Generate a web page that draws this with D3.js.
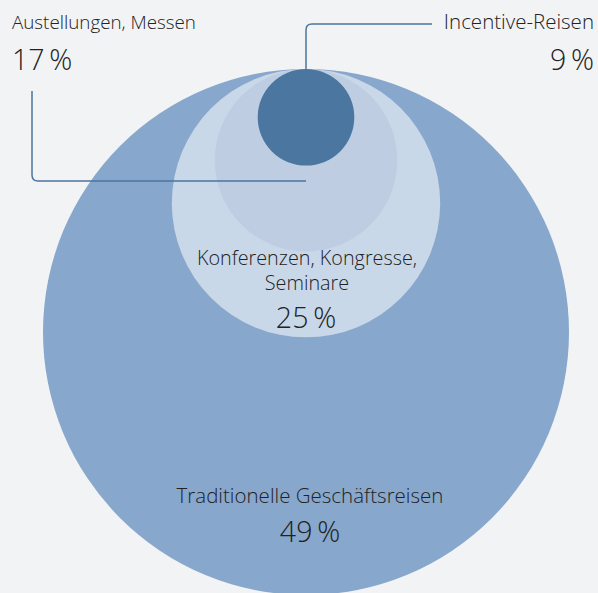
<!DOCTYPE html>
<html>
<head>
<meta charset="utf-8">
<script src="https://cdn.jsdelivr.net/npm/d3@7"></script>
<style>
  body { margin: 0; background: #f2f3f5; }
  svg { display: block; }
  text { font-family: "Open Sans", sans-serif; font-weight: 300; fill: #222; }
</style>
</head>
<body>
<div id="chart"></div>
<script>
// data
var categories = ["Traditionelle Geschäftsreisen", "Konferenzen, Kongresse, Seminare", "Austellungen, Messen", "Incentive-Reisen"];
var values = [49, 25, 17, 9];
var colors = ["#87a7cc", "#c9d8e8", "#bfcde3", "#4a76a0"];

var width = 598, height = 593;
var cx = 306, topY = 69;

var svg = d3.select("#chart")
  .append("svg")
    .attr("width", width)
    .attr("height", height);

svg.append("rect").attr("width", width).attr("height", height).attr("fill", "#f2f3f5");

// radius grows linearly with the value, all circles touch at the top
var r = d3.scaleLinear().domain([0, 49]).range([0, 263]);
var color = d3.scaleOrdinal().domain(categories).range(colors);

var data = categories.map(function(c, i) { return {name: c, value: values[i]}; });

svg.selectAll("circle")
  .data(data)
  .enter().append("circle")
    .attr("cx", cx)
    .attr("cy", function(d) { return topY + r(d.value); })
    .attr("r", function(d) { return r(d.value); })
    .attr("fill", function(d) { return color(d.name); });

function pct(v) { return v + "\u2009%"; }

var labelSize = "19.8px", numSize = "28.5px";

// labels inside the two big circles
var big = data[0], conf = data[1];
var bigBottom = topY + 2 * r(big.value);
var confBottom = topY + 2 * r(conf.value);

svg.append("text").attr("x", cx + 4).attr("y", bigBottom - 92).attr("text-anchor", "middle")
  .style("font-size", "20.5px").text(big.name);
svg.append("text").attr("x", cx + 4).attr("y", bigBottom - 53).attr("text-anchor", "middle")
  .style("font-size", numSize).text(pct(big.value));

svg.append("text").attr("x", cx + 1).attr("y", confBottom - 72).attr("text-anchor", "middle")
  .style("font-size", labelSize).text("Konferenzen, Kongresse,");
svg.append("text").attr("x", cx + 1).attr("y", confBottom - 47).attr("text-anchor", "middle")
  .style("font-size", labelSize).text("Seminare");
svg.append("text").attr("x", cx).attr("y", confBottom - 9).attr("text-anchor", "middle")
  .style("font-size", numSize).text(pct(conf.value));

// callouts
var lineColor = "#4a76a0";
var inc = data[3], aus = data[2];

svg.append("path")
  .attr("d", "M" + cx + "," + topY + " V30 Q" + cx + ",24 " + (cx + 6) + ",24 H432")
  .attr("fill", "none").attr("stroke", lineColor).attr("stroke-width", 1.5);
svg.append("text").attr("x", 594).attr("y", 29).attr("text-anchor", "end")
  .style("font-size", "20.5px").text(inc.name);
svg.append("text").attr("x", 594).attr("y", 70).attr("text-anchor", "end")
  .style("font-size", numSize).text(pct(inc.value));

svg.append("path")
  .attr("d", "M32,91 V175 Q32,181 38,181 H" + cx)
  .attr("fill", "none").attr("stroke", lineColor).attr("stroke-width", 1.5);
svg.append("text").attr("x", 12).attr("y", 29)
  .style("font-size", "18.8px").text(aus.name);
svg.append("text").attr("x", 12).attr("y", 70)
  .style("font-size", numSize).text(pct(aus.value));
</script>
</body>
</html>
